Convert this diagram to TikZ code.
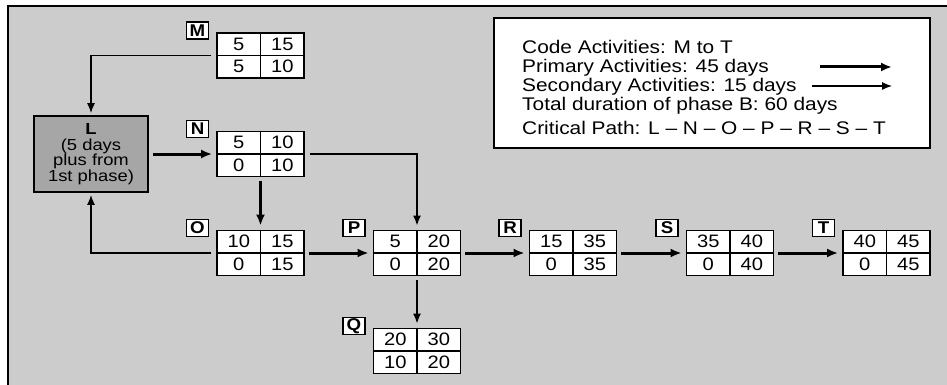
\documentclass[tikz,border=0pt]{standalone}
\usepackage{fontspec}
\usepackage{graphicx}
\setmainfont{Liberation Sans}
\usetikzlibrary{arrows.meta}
\definecolor{bg}{HTML}{CCCCCC}
\definecolor{lfill}{HTML}{A6A6A6}
\newcommand\hs[2][1.15]{\scalebox{#1}[1]{#2}}
\tikzset{
  tbl/.style={draw=black, fill=white, line width=1.8pt, minimum width=87pt, minimum height=45pt, inner sep=0pt},
  tblline/.style={line width=1.8pt},
  num/.style={inner sep=0pt, font=\fontsize{18}{19}\selectfont},
  lbl/.style={draw=black, fill=white, line width=1.4pt, minimum width=22pt, minimum height=17pt, inner sep=0pt, font=\fontsize{17}{18}\selectfont\bfseries},
  lbox/.style={draw=black, fill=lfill, line width=1.8pt, minimum width=114pt, minimum height=76pt, inner sep=0pt, align=center, font=\fontsize{16}{15.6}\selectfont},
  legbox/.style={draw=black, fill=white, line width=1.6pt, minimum width=436pt, minimum height=130pt, inner sep=0pt},
  legtxt/.style={anchor=base west, inner sep=0pt, font=\fontsize{18.3}{19}\selectfont},
  primary/.style={line width=3pt, -{Latex[length=11pt, width=9pt]}},
  secondary/.style={line width=1.4pt, -{Latex[length=10pt, width=8pt]}},
}
\newcommand\acttbl[8]{%
  \node[tbl] (#1) at (#2,#3) {};
  \draw[tblline] (#1.north) -- (#1.south);
  \draw[tblline] (#1.west) -- (#1.east);
  \node[num] (#1a) at ({#2-21.75},{#3-11.25}) {\hs[1.12]{#4}};
  \node[num] (#1b) at ({#2+21.75},{#3-11.25}) {\hs[1.12]{#5}};
  \node[num] (#1c) at ({#2-21.75},{#3+11.25}) {\hs[1.12]{#6}};
  \node[num] (#1d) at ({#2+21.75},{#3+11.25}) {\hs[1.12]{#7}};
  \node[lbl] (#1lbl) at ({#2-63},{#3-25}) {\hs[1.1]{#8}};
}
\begin{document}
\begin{tikzpicture}[x=1pt, y=-1pt]
\useasboundingbox (0,0) rectangle (947,385);
\clip (0,0) rectangle (947,385);
\fill[white] (0,0) rectangle (947,385);
\draw[fill=bg, line width=2pt] (8,6) rectangle (980,420);

% legend
\node[legbox] (leg) at (712,83) {};
\node[legtxt] (lg1) at (522,54) {\hs[1.14]{Code Activities: M to T}};
\node[legtxt] (lg2) at (522,73) {\hs[1.14]{Primary Activities: 45 days}};
\node[legtxt] (lg3) at (522,92) {\hs[1.14]{Secondary Activities: 15 days}};
\node[legtxt] (lg4) at (522,111) {\hs[1.14]{Total duration of phase B: 60 days}};
\node[legtxt] (lg5) at (522,135) {\hs[1.14]{Critical Path: L -- N -- O -- P -- R -- S -- T}};
\coordinate (pa1) at (820,67);
\coordinate (pa2) at (892,67);
\coordinate (sa1) at (812,86);
\coordinate (sa2) at (892,86);
\draw[primary] (pa1) -- (pa2);
\draw[secondary, line width=1.2pt] (sa1) -- (sa2);

% L box
\node[lbox] (L) at (91,154) {\hs{\textbf{L}}\\\hs{(5 days}\\\hs{plus from}\\\hs{1st phase)}};

% tables
\acttbl{M}{260.5}{55.5}{5}{15}{5}{10}{M}
\acttbl{N}{260.5}{154}{5}{10}{0}{10}{N}
\acttbl{O}{260.5}{253}{10}{15}{0}{15}{O}
\acttbl{P}{417}{253}{5}{20}{0}{20}{P}
\acttbl{R}{573}{253}{15}{35}{0}{35}{R}
\acttbl{S}{730}{253}{35}{40}{0}{40}{S}
\acttbl{T}{886.5}{253}{40}{45}{0}{45}{T}
\acttbl{Q}{417}{351}{20}{30}{10}{20}{Q}

% connectors
\draw[secondary, shorten >=2pt] ([xshift=-5pt]M.west) -| (L.north);
\draw[secondary, shorten >=2pt] ([xshift=-5pt]O.west) -| (L.south);
\draw[primary, shorten <=4pt, shorten >=4pt] (L.east) -- (N.west);
\draw[primary, shorten <=4pt, shorten >=4pt] (N.south) -- (O.north);
\draw[secondary, line width=1.6pt, shorten >=4pt] ([xshift=5pt]N.east) -| (P.north);
\draw[primary, shorten <=4pt, shorten >=4pt] (O.east) -- (P.west);
\draw[primary, shorten <=4pt, shorten >=4pt] (P.east) -- (R.west);
\draw[primary, shorten <=4pt, shorten >=4pt] (R.east) -- (S.west);
\draw[primary, shorten <=4pt, shorten >=4pt] (S.east) -- (T.west);
\draw[secondary, line width=1.6pt, shorten <=4pt, shorten >=4pt] (P.south) -- (Q.north);
\end{tikzpicture}
\end{document}
